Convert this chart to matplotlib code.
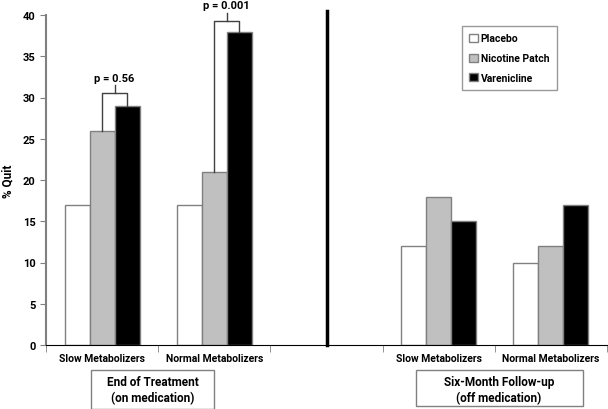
import matplotlib
matplotlib.use('Agg')
from matplotlib import pyplot as plt
from matplotlib.patches import Rectangle
import numpy as np

plt.rcParams['font.family'] = ['Roboto', 'DejaVu Sans']
plt.rcParams['font.weight'] = 'bold'

categories = ['Slow Metabolizers', 'Normal Metabolizers', '', 'Slow Metabolizers', 'Normal Metabolizers']
series = ['Placebo', 'Nicotine Patch', 'Varenicline']
placebo = [17, 17, np.nan, 12, 10]
patch = [26, 21, np.nan, 18, 12]
varenicline = [29, 38, np.nan, 15, 17]
colors = ['white', '#c0c0c0', 'black']
pvals = ['p = 0.56', 'p = 0.001']
bracket_tops = [30.5, 39.3]

fig = plt.figure(figsize=(6.08, 4.10), dpi=100)
ax = fig.add_axes([46/608, 64/410, 561/608, 330/410])

x = np.arange(len(categories))
w = 0.223
for i, (vals, c, name) in enumerate(zip([placebo, patch, varenicline], colors, series)):
  ax.bar(x + (i-1)*w, vals, w, color=c, edgecolor='#808080', linewidth=1, label=name)

# significance brackets
for k in range(2):
  xl = x[k]
  xr = x[k] + w
  top = bracket_tops[k]
  ax.plot([xl, xl, xr, xr], [patch[k], top, top, varenicline[k]], color='#404040', lw=1, clip_on=False)
  xm = (xl+xr)/2
  ax.plot([xm, xm], [top, top+1.0], color='#404040', lw=1, clip_on=False)
  ax.text(xm, top+1.3, pvals[k], ha='center', va='bottom', fontsize=8, fontweight='bold')

# divider
ax.plot([2, 2], [0, 40.5], color='black', lw=2.5, clip_on=False)

ax.set_xlim(-0.5, 4.5)
ax.set_ylim(0, 40)
ax.set_yticks(range(0, 41, 5))
ax.set_xticks(x)
ax.set_xticklabels(categories, fontsize=7.5, fontweight='bold')
ax.tick_params(axis='x', length=0, pad=6)
ax.set_xticks(np.arange(-0.5, 5, 1), minor=True)
ax.tick_params(axis='x', which='minor', length=5, color='#808080', direction='out')
ax.tick_params(axis='y', labelsize=8, length=4, color='#808080', direction='out')
for lab in ax.get_yticklabels():
  lab.set_fontweight('bold')
ax.spines['top'].set_visible(False)
ax.spines['right'].set_visible(False)
ax.spines['left'].set_color('#808080')
ax.spines['left'].set_linewidth(1.5)
ax.spines['bottom'].set_color('black')
ax.set_ylabel('% Quit', fontsize=8.5, fontweight='bold', labelpad=6)

leg = ax.legend(loc='upper left', bbox_to_anchor=(462/608, 1 - 27/410), bbox_transform=fig.transFigure,
  borderaxespad=0, frameon=True, fancybox=False,
  handlelength=0.8, handleheight=0.8, handletextpad=0.3, labelspacing=0.95,
  borderpad=0.7, prop={'weight': 'bold', 'size': 7.5})
leg.get_frame().set_edgecolor('#808080')
leg.get_frame().set_linewidth(1)

# group boxes
fig.patches.append(Rectangle((91/608, 0), 123/608, 39/410, transform=fig.transFigure,
  fill=False, edgecolor='#808080', lw=1))
fig.text(153/608, (410-390.5)/410, 'End of Treatment\n(on medication)', ha='center', va='center',
  fontsize=8.5, fontweight='bold', linespacing=1.25)
fig.patches.append(Rectangle((416/608, 3/410), 167/608, 36/410, transform=fig.transFigure,
  fill=False, edgecolor='#808080', lw=1))
fig.text(499/608, (410-390.5)/410, 'Six-Month Follow-up\n(off medication)', ha='center', va='center',
  fontsize=8.5, fontweight='bold', linespacing=1.25)

fig.savefig('out.png', dpi=100)
